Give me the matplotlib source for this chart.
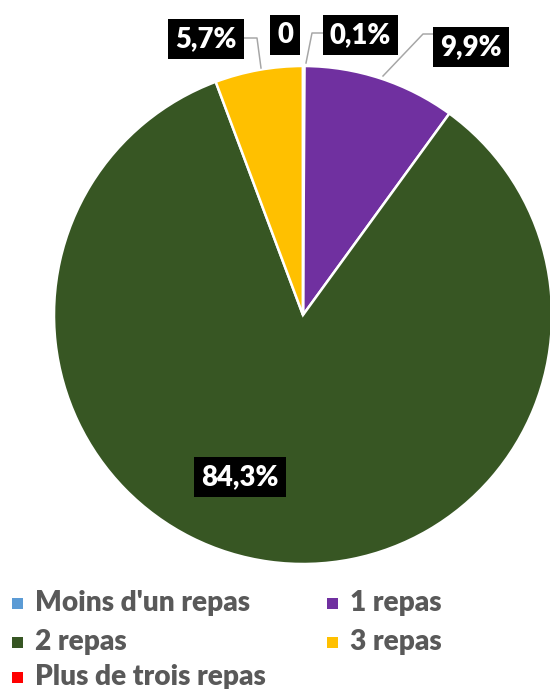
import matplotlib
matplotlib.use("Agg")
import matplotlib.pyplot as plt
from matplotlib.patches import Rectangle

categories = ["Moins d'un repas", "1 repas", "2 repas", "3 repas", "Plus de trois repas"]
values = [0.1, 9.9, 84.3, 5.7, 0.0]
colors = ["#5B9BD5", "#7030A0", "#375623", "#FFC000", "#FF0000"]
labels = ["0,1%", "9,9%", "84,3%", "5,7%", "0"]

W, H = 550, 689
fig = plt.figure(figsize=(W / 100, H / 100), dpi=100)
ax = fig.add_axes([0, 0, 1, 1])
PT = 72 / 100  # points per pixel

def Y(y):
    return H - y

cx, cy, R = 303, 315, 249
ax.pie(values, colors=colors, startangle=90, counterclock=False,
       center=(cx, Y(cy)), radius=R, frame=True,
       wedgeprops=dict(edgecolor="white", linewidth=2.5 * PT))
ax.set_xlim(0, W)
ax.set_ylim(0, H)
ax.set_aspect("auto")
ax.axis("off")

font = "Lato"
# label box centres (pixels) and leader lines
label_pos = [(360, 35), (471, 47), (240, 477), (206, 39), (285, 35)]
leaders = [
    [(323, 33), (312, 33), (306, 63)],
    [(434, 34), (423, 34), (383, 76)],
    None,
    [(244, 38), (257, 38), (261, 68)],
    None,
]
for lab, (x, y), ld in zip(labels, label_pos, leaders):
    if ld is not None:
        xs = [p[0] for p in ld]
        ys = [Y(p[1]) for p in ld]
        ax.plot(xs, ys, color="#A6A6A6", lw=1.5 * PT, zorder=3)
    ax.text(x, Y(y), lab, ha="center", va="center", color="white",
            fontsize=27.5 * PT, fontweight="heavy", family=font, zorder=5,
            bbox=dict(boxstyle="square,pad=0.25", facecolor="black", edgecolor="none"))

# legend
leg_pos = [(12, 603), (327, 603), (12, 642), (327, 642), (12, 677)]
for cat, col, (x, y) in zip(categories, colors, leg_pos):
    ax.add_patch(Rectangle((x, Y(y) - 5.5), 11, 11, facecolor=col, edgecolor="none"))
    ax.text(x + 23, Y(y), cat, ha="left", va="center", color="#595959",
            fontsize=28 * PT, fontweight="heavy", family=font)

fig.savefig("out.png", dpi=100)
